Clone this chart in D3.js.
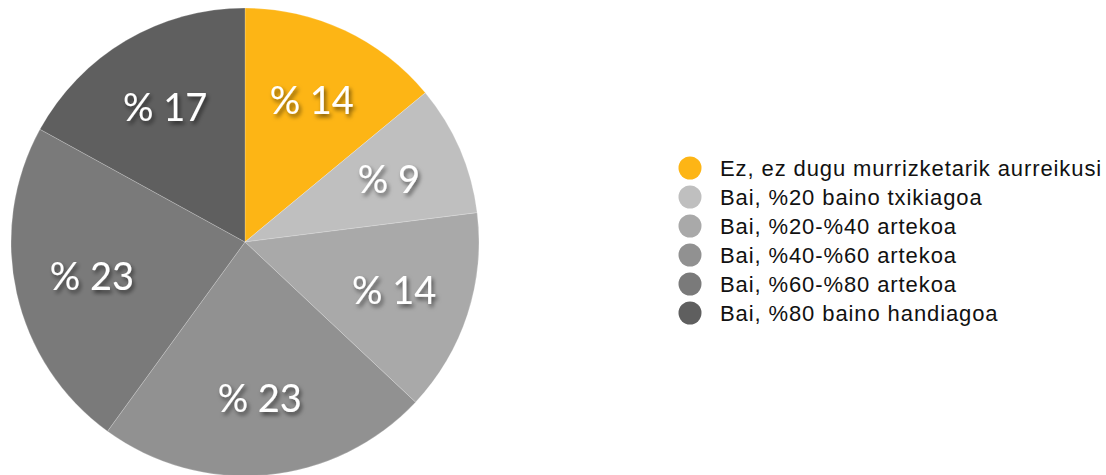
<!DOCTYPE html>
<html>
<head>
<meta charset="utf-8">
<script src="https://cdn.jsdelivr.net/npm/d3@7"></script>
<style>
  body { margin: 0; background: #fff; }
  .slice-label { font-family: Lato, "Open Sans", sans-serif; font-size: 38px; fill: #fff; }
  .legend-text { font-family: "Liberation Sans", Arial, sans-serif; font-size: 22px; letter-spacing: 0.9px; fill: #111; }
</style>
</head>
<body>
<svg id="chart" width="1106" height="475"></svg>
<script>
let categories = [
    "Ez, ez dugu murrizketarik aurreikusi",
    "Bai, %20 baino txikiagoa",
    "Bai, %20-%40 artekoa",
    "Bai, %40-%60 artekoa",
    "Bai, %60-%80 artekoa",
    "Bai, %80 baino handiagoa"
];
let values = [14, 9, 14, 23, 23, 17];
let colors = ["#fdb515", "#bfbfbf", "#a9a9a9", "#919191", "#7a7a7a", "#5f5f5f"];

function init() {
    let svg = d3.select("#chart");
    let cx = 245, cy = 242, radius = 234;

    // shadow for the white labels
    let filter = svg.append("defs").append("filter").attr("id", "shadow")
        .attr("x", "-20%").attr("y", "-20%").attr("width", "140%").attr("height", "140%");
    filter.append("feDropShadow").attr("dx", 2).attr("dy", 3)
        .attr("stdDeviation", 2).attr("flood-color", "#000").attr("flood-opacity", 0.55);

    let data = categories.map((c, i) => ({name: c, value: values[i], color: colors[i]}));

    let pie = d3.pie().value(d => d.value).sort(null);
    let arc = d3.arc().innerRadius(0).outerRadius(radius);
    let labelArc = d3.arc().innerRadius(radius * 0.67).outerRadius(radius * 0.67);

    let g = svg.append("g").attr("transform", `translate(${cx},${cy})`);
    let arcs = pie(data);

    g.selectAll("path").data(arcs).enter().append("path")
        .attr("d", arc)
        .attr("fill", d => d.data.color)
        .attr("stroke", "rgba(255,255,255,0.35)")
        .attr("stroke-width", 0.6);

    g.selectAll("text").data(arcs).enter().append("text")
        .attr("class", "slice-label")
        .attr("transform", d => `translate(${labelArc.centroid(d)})`)
        .attr("text-anchor", "middle")
        .attr("dy", "0.36em")
        .attr("filter", "url(#shadow)")
        .text(d => "% " + d.data.value);

    // Legend
    let legend = svg.append("g").attr("transform", "translate(690,168)");
    let rows = legend.selectAll("g").data(data).enter().append("g")
        .attr("transform", (d, i) => `translate(0,${i * 29})`);
    rows.append("circle").attr("r", 11.5).attr("fill", d => d.color);
    rows.append("text").attr("class", "legend-text")
        .attr("x", 30).attr("dy", "0.36em")
        .text(d => d.name);
}

init();
</script>
</body>
</html>
